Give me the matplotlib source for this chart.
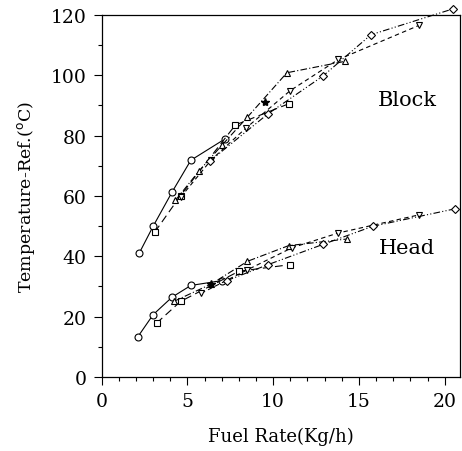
import matplotlib
matplotlib.use("Agg")
import matplotlib.pyplot as plt
from matplotlib.ticker import MultipleLocator

# Block temperature runs
blk_circ_x = [2.2, 3.0, 4.1, 5.2, 7.2]
blk_circ_y = [41.1, 49.9, 61.2, 71.8, 78.9]
blk_sq_x = [3.1, 4.6, 7.8, 10.9]
blk_sq_y = [48.0, 60.1, 83.5, 90.5]
blk_tu_x = [4.3, 5.7, 7.0, 8.5, 10.8, 14.2]
blk_tu_y = [58.5, 68.4, 76.7, 86.1, 100.8, 104.6]
blk_td_x = [4.6, 6.4, 8.4, 11.0, 13.8, 18.5]
blk_td_y = [59.5, 72.0, 82.4, 94.9, 105.2, 116.5]
blk_dm_x = [6.3, 9.7, 12.9, 15.7, 20.5]
blk_dm_y = [71.5, 87.2, 99.7, 113.4, 122.0]
blk_st_x = [9.5]
blk_st_y = [91.0]

# Head temperature runs
hd_circ_x = [2.1, 3.0, 4.1, 5.2, 7.0]
hd_circ_y = [13.2, 20.6, 26.4, 30.3, 31.9]
hd_sq_x = [3.2, 4.6, 8.0, 11.0]
hd_sq_y = [17.8, 25.0, 35.0, 37.2]
hd_tu_x = [4.2, 6.4, 8.5, 10.9, 14.3]
hd_tu_y = [25.0, 30.8, 38.3, 43.5, 45.7]
hd_td_x = [5.8, 8.5, 11.1, 13.8, 18.5]
hd_td_y = [27.7, 35.5, 42.8, 47.7, 53.7]
hd_dm_x = [7.3, 9.7, 12.9, 15.8, 20.6]
hd_dm_y = [31.9, 37.2, 43.9, 49.9, 55.7]
hd_st_x = [6.35]
hd_st_y = [30.8]

fig = plt.figure(figsize=(4.62, 4.52), dpi=100)
ax = fig.add_axes([0.22, 0.164, 0.776, 0.801])

styles = [
    ("o", "-"),
    ("s", (0, (7, 4))),
    ("^", (0, (6, 2, 1, 2))),
    ("v", (0, (4, 3))),
    ("D", (0, (6, 2, 1, 2, 1, 2))),
]
groups = [
    [(blk_circ_x, blk_circ_y), (blk_sq_x, blk_sq_y), (blk_tu_x, blk_tu_y),
     (blk_td_x, blk_td_y), (blk_dm_x, blk_dm_y)],
    [(hd_circ_x, hd_circ_y), (hd_sq_x, hd_sq_y), (hd_tu_x, hd_tu_y),
     (hd_td_x, hd_td_y), (hd_dm_x, hd_dm_y)],
]
for grp in groups:
    for (xs, ys), (mk, ls) in zip(grp, styles):
        ms = 4 if mk == "D" else 5
        ax.plot(xs, ys, color="black", linestyle=ls, linewidth=0.8,
                marker=mk, markersize=ms, markerfacecolor="white",
                markeredgewidth=0.8, clip_on=False)

for xs, ys in [(blk_st_x, blk_st_y), (hd_st_x, hd_st_y)]:
    ax.plot(xs, ys, linestyle="none", marker="*", markersize=6,
            color="black")

ax.set_xlim(0, 20.9)
ax.set_ylim(0, 120)
ax.xaxis.set_major_locator(MultipleLocator(5))
ax.xaxis.set_minor_locator(MultipleLocator(1))
ax.yaxis.set_major_locator(MultipleLocator(20))
ax.yaxis.set_minor_locator(MultipleLocator(10))
ax.tick_params(which="major", direction="out", length=6, width=0.8,
               labelsize=13.5, pad=5)
ax.tick_params(which="minor", direction="out", length=3, width=0.8)
for lab in ax.get_xticklabels() + ax.get_yticklabels():
    lab.set_family("DejaVu Serif")
    lab.set_fontweight("light")
for sp in ax.spines.values():
    sp.set_linewidth(0.9)

ax.text(17.8, 92, "Block", fontsize=15, family="DejaVu Serif",
        ha="center", va="center")
ax.text(17.8, 43, "Head", fontsize=15, family="DejaVu Serif",
        ha="center", va="center")

ax.set_xlabel("Fuel Rate(Kg/h)", fontsize=13, family="DejaVu Serif",
              labelpad=12)
ax.set_ylabel("Temperature-Ref.($^{\\rm o}$C)", fontsize=12.5,
              family="DejaVu Serif", labelpad=10)

fig.savefig("out.png", dpi=100)
